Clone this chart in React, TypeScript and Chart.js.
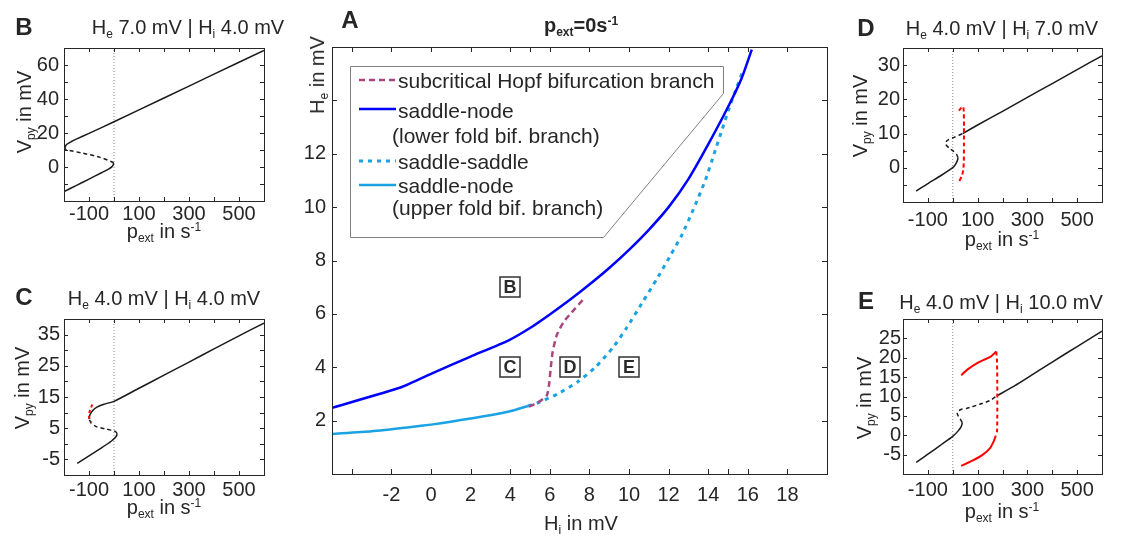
import React, { useEffect, useRef } from 'react';
import { Chart, registerables } from 'chart.js';

Chart.register(...registerables);

const FONT = "'Liberation Sans', Arial, Helvetica, sans-serif";
const INK = '#262626';

// ---------------- Panel A: He vs Hi bifurcation diagram ----------------
const aXTickValues = [-4, -2, 0, 2, 4, 5, 6, 8, 10, 12, 14, 15, 16, 18];
const aXTickLabels = [-2, 0, 2, 4, 6, 8, 10, 12, 14, 16, 18];
const aYTickValues = [0, 2, 4, 6, 8, 10, 12, 14, 16];
const aYTickLabels = [2, 4, 6, 8, 10, 12];

const hopfHi = [4.95, 5.4, 5.85, 5.97, 6.05, 6.15, 6.35, 6.7, 7.1, 7.7];
const hopfHe = [2.52, 2.68, 2.95, 3.4, 4.0, 4.6, 5.2, 5.7, 6.05, 6.55];

const lowerFoldHi = [-5, -1.5, 0, 2, 3.9, 5, 6, 7, 8, 9, 10, 11, 12, 13, 14, 15, 15.7, 16.2];
const lowerFoldHe = [2.48, 3.25, 3.75, 4.4, 5.0, 5.47, 5.98, 6.52, 7.1, 7.72, 8.4, 9.15, 10.0, 11.05, 12.35, 13.75, 14.85, 15.9];

const saddleHi = [4.9, 5.4, 6.4, 7.4, 8.3, 9.2, 9.9, 10.65, 11.4, 12.1, 12.7, 13.3, 13.85, 14.3, 14.7, 15.1, 15.45, 15.75];
const saddleHe = [2.55, 2.67, 3.0, 3.45, 4.0, 4.75, 5.5, 6.4, 7.3, 8.2, 9.0, 10.0, 11.0, 12.0, 12.9, 13.8, 14.5, 15.1];

const upperFoldHi = [-5, -3, -1, 0, 1, 2, 3, 4, 4.9];
const upperFoldHe = [1.5, 1.6, 1.76, 1.85, 1.96, 2.08, 2.2, 2.35, 2.55];

const regionNames = ['B', 'C', 'D', 'E'];
const regionHi = [4, 4, 7, 10];
const regionHe = [7, 4, 4, 4];

// ---------------- Panels B-E: Vpy vs pext ----------------
const pTickValues = [-200, -100, 0, 100, 200, 300, 400, 500, 600];
const pTickLabels = [-100, 100, 300, 500];

// B: He 7.0 | Hi 4.0
const bYTickValues = [-20, -10, 0, 10, 20, 30, 40, 50, 60, 70];
const bYTickLabels = [0, 20, 40, 60];
const bLowP = [-200, -150, -100, -50, -20, -8, -3, -1.5];
const bLowV = [-14.5, -10.8, -7.1, -3.4, -1.1, 0.2, 1.3, 2.3];
const bMidP = [-1.5, -10, -57, -124, -191, -197];
const bMidV = [2.3, 3.1, 5.8, 8.1, 10.2, 10.9];
const bUpP = [-197, -191, -170, -151, -100, 0, 200, 400, 600];
const bUpV = [10.9, 13.1, 15.0, 16.4, 19.8, 26.6, 40.6, 54.6, 68.6];

// C: He 4.0 | Hi 4.0
const cYTickValues = [-10, -5, 0, 5, 10, 15, 20, 25, 30, 35, 40];
const cYTickLabels = [-5, 5, 15, 25, 35];
const cLowP = [-147, -100, -50, -10, 5, 11, 12];
const cLowV = [-6.3, -3.9, -1.3, 0.9, 2.0, 2.7, 3.3];
const cMidP = [12, 5, -31, -71, -91, -100];
const cMidV = [3.3, 4.0, 4.7, 5.5, 6.6, 7.9];
const cUpP = [-100, -97, -85, -70, -40, 0, 100, 200, 300, 400, 500, 600];
const cUpV = [7.9, 9.2, 10.7, 11.7, 12.7, 13.6, 17.8, 22.0, 26.2, 30.4, 34.6, 38.7];
const cRedP = [-87, -93, -99, -100, -97, -90];
const cRedV = [12.6, 11.3, 10.0, 9.0, 7.8, 6.8];

// D: He 4.0 | Hi 7.0
const dYTickValues = [-10, -5, 0, 5, 10, 15, 20, 25, 30, 35];
const dYTickLabels = [0, 10, 20, 30];
const dLowP = [-147, -100, -50, -10, 5, 15, 20, 21];
const dLowV = [-6.8, -4.6, -2.4, -0.5, 0.4, 1.5, 2.4, 3.0];
const dMidP = [21, 15, 3, -15, -25, -29, -27, -15, 5, 25, 40];
const dMidV = [3.0, 4.0, 4.8, 5.8, 6.5, 7.0, 7.6, 8.3, 8.9, 9.5, 10.0];
const dUpP = [40, 100, 200, 300, 400, 500, 600];
const dUpV = [10.0, 12.5, 16.5, 20.6, 24.6, 28.7, 32.7];
const dRedP = [25, 34, 42, 44.5, 45, 45, 44.5, 43, 38, 25];
const dRedV = [16.7, 17.5, 17.9, 16, 12, 7, 2, 0, -2.1, -4.1];

// E: He 4.0 | Hi 10.0
const eYTickValues = [-10, -5, 0, 5, 10, 15, 20, 25, 30];
const eYTickLabels = [-5, 0, 5, 10, 15, 20, 25];
const eLowP = [-147, -100, -50, 0, 20, 32, 37, 38];
const eLowV = [-7.0, -4.9, -2.6, -0.3, 1.0, 2.0, 2.8, 3.3];
const eMidP = [38, 30, 22, 18, 21, 35, 55, 108, 148, 181];
const eMidV = [3.3, 4.2, 5.0, 5.6, 6.2, 6.7, 6.9, 8.0, 8.9, 10.3];
const eUpP = [181, 250, 300, 400, 500, 600];
const eUpV = [10.3, 12.8, 14.8, 18.9, 22.9, 26.9];
const eRedTopP = [34, 60, 100, 150, 175];
const eRedTopV = [15.5, 17.0, 18.7, 20.2, 21.6];
const eRedMidP = [175, 178, 179, 179, 178, 172];
const eRedMidV = [21.6, 19, 12, 5, 1, -0.3];
const eRedLowP = [172, 165, 150, 121, 81, 34];
const eRedLowV = [-0.3, -1.5, -3.3, -5.0, -6.5, -7.9];

// ---------------- styles ----------------
const C_HOPF = '#a8477f';
const C_BLUE = '#0000ff';
const C_LIGHT = '#1aa2e2';
const C_BLACK = '#1a1a1a';
const C_RED = '#ff0000';
const C_ZERO = '#8c8c8c';

const Y_AXIS_W = 45;
const X_AXIS_H = 40;

type XY = { x: number; y: number };
const zip = (xs: number[], ys: number[]): XY[] => xs.map((x, i) => ({ x, y: ys[i] }));

function curve(xs: number[], ys: number[], color: string, width: number, dash: number[] = [], tension = 0.2) {
  return {
    data: zip(xs, ys),
    borderColor: color,
    backgroundColor: color,
    borderWidth: width,
    borderDash: dash,
    pointRadius: 0,
    pointHoverRadius: 0,
    fill: false,
    tension,
    clip: 0,
    borderCapStyle: 'butt',
    borderJoinStyle: 'round',
  };
}

function zeroLine(yLim: [number, number]) {
  return curve([0, 0], yLim, C_ZERO, 1, [1, 2], 0);
}

const boxPlugin = (tickLen: number) => ({
  id: 'matlabBox',
  afterDatasetsDraw(chart: any) {
    const { ctx, chartArea: a, scales } = chart;
    ctx.save();
    ctx.strokeStyle = INK;
    ctx.lineWidth = 1;
    ctx.setLineDash([]);
    ctx.strokeRect(a.left + 0.5, a.top + 0.5, a.right - a.left, a.bottom - a.top);
    ctx.beginPath();
    for (const t of scales.x.ticks) {
      const px = Math.round(scales.x.getPixelForValue(t.value)) + 0.5;
      ctx.moveTo(px, a.bottom);
      ctx.lineTo(px, a.bottom - tickLen);
      ctx.moveTo(px, a.top);
      ctx.lineTo(px, a.top + tickLen);
    }
    for (const t of scales.y.ticks) {
      const py = Math.round(scales.y.getPixelForValue(t.value)) + 0.5;
      ctx.moveTo(a.left, py);
      ctx.lineTo(a.left + tickLen, py);
      ctx.moveTo(a.right, py);
      ctx.lineTo(a.right - tickLen, py);
    }
    ctx.stroke();
    ctx.restore();
  },
});

type PanelProps = {
  box: [number, number, number, number];
  area: [number, number, number, number];
  xLim: [number, number];
  yLim: [number, number];
  xTicks: number[];
  xLabels: number[];
  yTicks: number[];
  yLabels: number[];
  datasets: any[];
  tickLen: number;
  xPad: number;
  yPad: number;
  extra?: any[];
};

function Panel(p: PanelProps) {
  const ref = useRef<HTMLCanvasElement>(null);
  useEffect(() => {
    const [bx, by, bw, bh] = p.box;
    const [x0, y0, x1, y1] = p.area;
    const tickFont = { family: FONT, size: 20 };
    const chart = new Chart(ref.current as HTMLCanvasElement, {
      type: 'line',
      data: { datasets: p.datasets },
      options: {
        animation: false,
        responsive: false,
        maintainAspectRatio: false,
        events: [],
        layout: {
          padding: {
            left: x0 - bx - Y_AXIS_W,
            top: y0 - by,
            right: bx + bw - x1,
            bottom: by + bh - y1 - X_AXIS_H,
          },
        },
        plugins: { legend: { display: false }, tooltip: { enabled: false }, title: { display: false } },
        scales: {
          x: {
            type: 'linear',
            min: p.xLim[0],
            max: p.xLim[1],
            grid: { display: false, drawTicks: false },
            border: { display: false },
            afterFit: (s: any) => { s.height = X_AXIS_H; },
            afterBuildTicks: (s: any) => { s.ticks = p.xTicks.map((v) => ({ value: v })); },
            ticks: {
              autoSkip: false,
              maxRotation: 0,
              padding: p.xPad,
              color: INK,
              font: tickFont,
              callback: (v: any) => (p.xLabels.includes(Number(v)) ? String(v) : ''),
            },
          },
          y: {
            type: 'linear',
            min: p.yLim[0],
            max: p.yLim[1],
            grid: { display: false, drawTicks: false },
            border: { display: false },
            afterFit: (s: any) => { s.width = Y_AXIS_W; },
            afterBuildTicks: (s: any) => { s.ticks = p.yTicks.map((v) => ({ value: v })); },
            ticks: {
              autoSkip: false,
              padding: p.yPad,
              color: INK,
              font: tickFont,
              callback: (v: any) => (p.yLabels.includes(Number(v)) ? String(v) : ''),
            },
          },
        },
      } as any,
      plugins: [boxPlugin(p.tickLen), ...(p.extra || [])],
    });
    return () => chart.destroy();
  }, []);
  const [bx, by, bw, bh] = p.box;
  return (
    <canvas
      ref={ref}
      width={bw}
      height={bh}
      style={{ position: 'absolute', left: bx, top: by, width: bw, height: bh }}
    />
  );
}

// legend of panel A: dataset index and row offset (from plot top)
const legendRows = [
  { ds: 0, dy: 33 },
  { ds: 1, dy: 62 },
  { ds: 2, dy: 114 },
  { ds: 3, dy: 138 },
];

const legendPlugin = {
  id: 'aLegend',
  afterDatasetsDraw(chart: any) {
    const { ctx, chartArea: a } = chart;
    const ox = a.left;
    const oy = a.top;
    const poly = [
      [18, 19],
      [391, 19],
      [391, 46],
      [271, 190],
      [18, 190],
    ];
    ctx.save();
    ctx.beginPath();
    poly.forEach(([x, y], i) => {
      if (i === 0) ctx.moveTo(ox + x + 0.5, oy + y + 0.5);
      else ctx.lineTo(ox + x + 0.5, oy + y + 0.5);
    });
    ctx.closePath();
    ctx.fillStyle = '#ffffff';
    ctx.fill();
    ctx.strokeStyle = '#808080';
    ctx.lineWidth = 1;
    ctx.setLineDash([]);
    ctx.stroke();
    for (const r of legendRows) {
      const ds = chart.data.datasets[r.ds];
      ctx.beginPath();
      ctx.strokeStyle = ds.borderColor;
      ctx.lineWidth = ds.borderWidth;
      ctx.setLineDash(ds.borderDash || []);
      ctx.moveTo(ox + 27, oy + r.dy);
      ctx.lineTo(ox + 64, oy + r.dy);
      ctx.stroke();
    }
    ctx.restore();
  },
};

const regionPlugin = {
  id: 'aRegions',
  afterDatasetsDraw(chart: any) {
    const { ctx, scales } = chart;
    ctx.save();
    ctx.setLineDash([]);
    regionNames.forEach((name, i) => {
      const px = Math.round(scales.x.getPixelForValue(regionHi[i]));
      const py = Math.round(scales.y.getPixelForValue(regionHe[i]));
      ctx.fillStyle = '#ffffff';
      ctx.fillRect(px - 10, py - 10, 20, 20);
      ctx.strokeStyle = '#333333';
      ctx.lineWidth = 1.5;
      ctx.strokeRect(px - 10, py - 10, 20, 20);
      ctx.fillStyle = '#2b2b2b';
      ctx.font = `bold 18px ${FONT}`;
      ctx.textAlign = 'center';
      ctx.textBaseline = 'middle';
      ctx.fillText(name, px, py + 1);
    });
    ctx.restore();
  },
};

const sub = (t: string) => (
  <span style={{ fontSize: '0.6em', position: 'relative', top: '0.35em' }}>{t}</span>
);
const sup = (t: string) => (
  <span style={{ fontSize: '0.6em', position: 'relative', top: '-0.6em' }}>{t}</span>
);

type TP = {
  x: number;
  y: number;
  size?: number;
  bold?: boolean;
  rotate?: boolean;
  left?: boolean;
  children: React.ReactNode;
};
function T({ x, y, size = 20, bold, rotate, left, children }: TP) {
  const tx = left ? '0' : '-50%';
  return (
    <div
      style={{
        position: 'absolute',
        left: x,
        top: y,
        transform: `translate(${tx}, -50%)${rotate ? ' rotate(-90deg)' : ''}`,
        whiteSpace: 'nowrap',
        fontFamily: FONT,
        fontSize: size,
        fontWeight: bold ? 700 : 400,
        lineHeight: 1,
        color: INK,
      }}
    >
      {children}
    </div>
  );
}

const pLabel = (
  <>
    p{sub('ext')} in s{sup('-1')}
  </>
);
const vLabel = (
  <>
    V{sub('py')} in mV
  </>
);
const title = (he: string, hi: string) => (
  <>
    H{sub('e')} {he} mV | H{sub('i')} {hi} mV
  </>
);

export default function App() {
  const pLim: [number, number] = [-200, 600];
  const bY: [number, number] = [-20, 70];
  const cY: [number, number] = [-10, 40];
  const dY: [number, number] = [-10, 35];
  const eY: [number, number] = [-10, 30];

  const aDatasets = [
    curve(hopfHi, hopfHe, C_HOPF, 2.5, [6, 4]),
    curve(lowerFoldHi, lowerFoldHe, C_BLUE, 2.5, [], 0.15),
    curve(saddleHi, saddleHe, C_LIGHT, 3, [4, 5]),
    curve(upperFoldHi, upperFoldHe, C_LIGHT, 2.5),
  ];

  const bDatasets = [
    curve(bLowP, bLowV, C_BLACK, 1.5),
    curve(bMidP, bMidV, C_BLACK, 1.5, [4, 3]),
    curve(bUpP, bUpV, C_BLACK, 1.5),
    zeroLine(bY),
  ];
  const cDatasets = [
    curve(cRedP, cRedV, C_RED, 2, [3, 3]),
    curve(cLowP, cLowV, C_BLACK, 1.5),
    curve(cMidP, cMidV, C_BLACK, 1.5, [4, 3]),
    curve(cUpP, cUpV, C_BLACK, 1.5),
    zeroLine(cY),
  ];
  const dDatasets = [
    curve(dRedP, dRedV, C_RED, 2, [4, 3]),
    curve(dLowP, dLowV, C_BLACK, 1.5),
    curve(dMidP, dMidV, C_BLACK, 1.5, [4, 3]),
    curve(dUpP, dUpV, C_BLACK, 1.5),
    zeroLine(dY),
  ];
  const eDatasets = [
    curve(eRedTopP, eRedTopV, C_RED, 2),
    curve(eRedMidP, eRedMidV, C_RED, 2, [4, 3]),
    curve(eRedLowP, eRedLowV, C_RED, 2),
    curve(eLowP, eLowV, C_BLACK, 1.5),
    curve(eMidP, eMidV, C_BLACK, 1.5, [4, 3]),
    curve(eUpP, eUpV, C_BLACK, 1.5),
    zeroLine(eY),
  ];

  return (
    <div
      style={{
        position: 'absolute',
        left: 0,
        top: 0,
        width: 1124,
        height: 537,
        overflow: 'hidden',
        background: '#ffffff',
      }}
    >
      <Panel
        box={[285, 25, 555, 512]}
        area={[332, 47, 827, 474]}
        xLim={[-5, 20]}
        yLim={[0, 16]}
        xTicks={aXTickValues}
        xLabels={aXTickLabels}
        yTicks={aYTickValues}
        yLabels={aYTickLabels}
        datasets={aDatasets}
        tickLen={5}
        xPad={9}
        yPad={6}
        extra={[regionPlugin, legendPlugin]}
      />
      <Panel
        box={[0, 25, 280, 235]}
        area={[64, 48, 264, 201]}
        xLim={pLim}
        yLim={bY}
        xTicks={pTickValues}
        xLabels={pTickLabels}
        yTicks={bYTickValues}
        yLabels={bYTickLabels}
        datasets={bDatasets}
        tickLen={4}
        xPad={1}
        yPad={5}
      />
      <Panel
        box={[0, 295, 280, 242]}
        area={[64, 319, 264, 475]}
        xLim={pLim}
        yLim={cY}
        xTicks={pTickValues}
        xLabels={pTickLabels}
        yTicks={cYTickValues}
        yLabels={cYTickLabels}
        datasets={cDatasets}
        tickLen={4}
        xPad={3}
        yPad={4}
      />
      <Panel
        box={[845, 25, 279, 235]}
        area={[903, 48, 1102, 202]}
        xLim={pLim}
        yLim={dY}
        xTicks={pTickValues}
        xLabels={pTickLabels}
        yTicks={dYTickValues}
        yLabels={dYTickLabels}
        datasets={dDatasets}
        tickLen={4}
        xPad={6}
        yPad={3}
      />
      <Panel
        box={[845, 295, 279, 242]}
        area={[903, 319, 1102, 474]}
        xLim={pLim}
        yLim={eY}
        xTicks={pTickValues}
        xLabels={pTickLabels}
        yTicks={eYTickValues}
        yLabels={eYTickLabels}
        datasets={eDatasets}
        tickLen={4}
        xPad={4}
        yPad={2}
      />

      {/* panel letters */}
      <T x={350} y={20} size={24} bold>A</T>
      <T x={24} y={27} size={24} bold>B</T>
      <T x={24} y={297} size={24} bold>C</T>
      <T x={866} y={28} size={24} bold>D</T>
      <T x={866} y={301} size={24} bold>E</T>

      {/* panel titles */}
      <T x={581} y={25} size={20} bold>
        p{sub('ext')}=0s{sup('-1')}
      </T>
      <T x={188} y={27}>{title('7.0', '4.0')}</T>
      <T x={164} y={298}>{title('4.0', '4.0')}</T>
      <T x={1002} y={28}>{title('4.0', '7.0')}</T>
      <T x={1001} y={302}>{title('4.0', '10.0')}</T>

      {/* axis labels */}
      <T x={317} y={75} rotate>
        H{sub('e')} in mV
      </T>
      <T x={581} y={523}>
        H{sub('i')} in mV
      </T>
      <T x={164} y={231}>{pLabel}</T>
      <T x={164} y={507}>{pLabel}</T>
      <T x={1002} y={239}>{pLabel}</T>
      <T x={1002} y={511}>{pLabel}</T>
      <T x={24} y={112} rotate>{vLabel}</T>
      <T x={22} y={388} rotate>{vLabel}</T>
      <T x={860} y={116} rotate>{vLabel}</T>
      <T x={864} y={398} rotate>{vLabel}</T>

      {/* legend texts of panel A */}
      <T x={398} y={80} size={21} left>subcritical Hopf bifurcation branch</T>
      <T x={398} y={110} size={21} left>saddle-node</T>
      <T x={392} y={135} size={21} left>(lower fold bif. branch)</T>
      <T x={398} y={161} size={21} left>saddle-saddle</T>
      <T x={398} y={185} size={21} left>saddle-node</T>
      <T x={392} y={207} size={21} left>(upper fold bif. branch)</T>
    </div>
  );
}
